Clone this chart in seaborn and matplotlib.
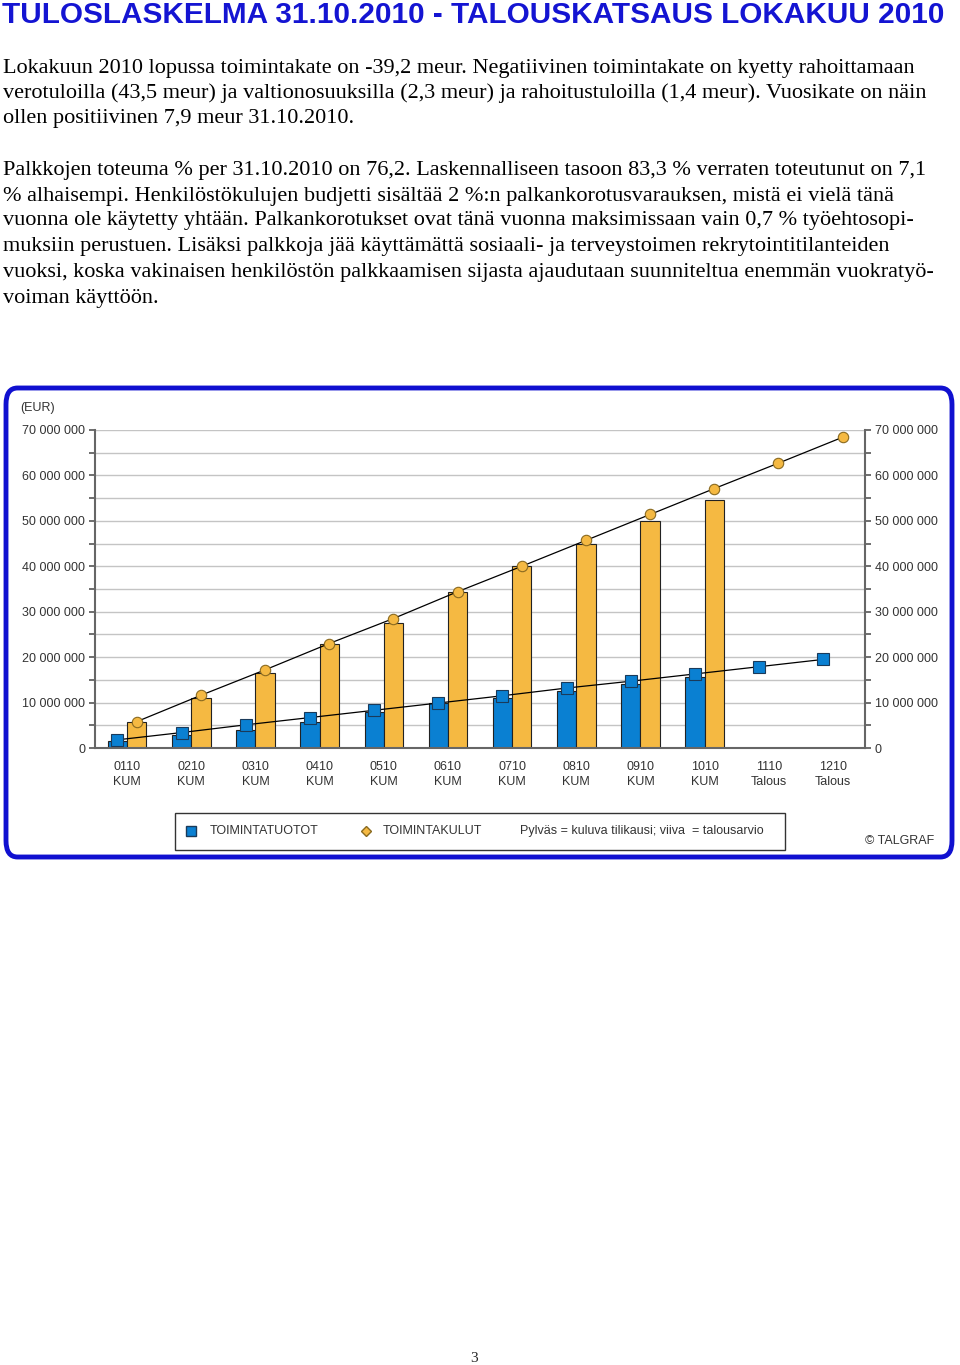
import matplotlib
matplotlib.use("Agg")
import numpy as np
import pandas as pd
import seaborn as sns
import matplotlib.pyplot as plt
from matplotlib.patches import FancyBboxPatch, Rectangle
from matplotlib.lines import Line2D
from matplotlib.ticker import FuncFormatter, MultipleLocator, FixedLocator

# ---------------- data ----------------
categories = ["0110\nKUM", "0210\nKUM", "0310\nKUM", "0410\nKUM", "0510\nKUM", "0610\nKUM",
              "0710\nKUM", "0810\nKUM", "0910\nKUM", "1010\nKUM", "1110\nTalous", "1210\nTalous"]
# actual (bars), millions EUR
tuotot_actual = [1.5, 2.8, 4.0, 5.8, 8.0, 9.8, 11.0, 12.6, 14.1, 15.7, np.nan, np.nan]
kulut_actual = [5.8, 10.9, 16.5, 23.0, 27.5, 34.4, 40.0, 44.8, 49.9, 54.7, np.nan, np.nan]
# budget (lines), millions EUR
tuotot_budget = [1.8, 3.4, 5.1, 6.7, 8.3, 9.9, 11.5, 13.2, 14.7, 16.3, 17.9, 19.5]
kulut_budget = [5.8, 11.6, 17.2, 23.0, 28.5, 34.4, 40.0, 45.7, 51.4, 57.1, 62.7, 68.4]
series_names = ["TOIMINTATUOTOT", "TOIMINTAKULUT"]

title = "TULOSLASKELMA 31.10.2010 - TALOUSKATSAUS LOKAKUU 2010"
body_lines = [
    "Lokakuun 2010 lopussa toimintakate on -39,2 meur. Negatiivinen toimintakate on kyetty rahoittamaan",
    "verotuloilla (43,5 meur) ja valtionosuuksilla (2,3 meur) ja rahoitustuloilla (1,4 meur). Vuosikate on näin",
    "ollen positiivinen 7,9 meur 31.10.2010.",
    "Palkkojen toteuma % per 31.10.2010 on 76,2. Laskennalliseen tasoon 83,3 % verraten toteutunut on 7,1",
    "% alhaisempi. Henkilöstökulujen budjetti sisältää 2 %:n palkankorotusvarauksen, mistä ei vielä tänä",
    "vuonna ole käytetty yhtään. Palkankorotukset ovat tänä vuonna maksimissaan vain 0,7 % työehtosopi-",
    "muksiin perustuen. Lisäksi palkkoja jää käyttämättä sosiaali- ja terveystoimen rekrytointitilanteiden",
    "vuoksi, koska vakinaisen henkilöstön palkkaamisen sijasta ajaudutaan suunniteltua enemmän vuokratyö-",
    "voiman käyttöön.",
]
body_y = [68, 93, 119, 170, 196, 221, 247, 272, 298]

BLUE = "#0a80d2"
ORANGE = "#f5b942"
FRAME = "#1010d0"
TXT = "#333333"

sns.set_style("white")
plt.rcParams["font.family"] = ["Liberation Sans", "DejaVu Sans"]

W, H = 960, 1365
fig = plt.figure(figsize=(W / 100, H / 100), dpi=100)

def fx(px):
    return px / W

def fy(py):
    return 1 - py / H

# ---------------- frame ----------------
frame = FancyBboxPatch((fx(6), fy(857)), fx(946), (857 - 388) / H,
                       boxstyle="round,pad=0,rounding_size=0.012",
                       transform=fig.transFigure, facecolor="white",
                       edgecolor=FRAME, linewidth=3.5, zorder=0)
fig.add_artist(frame)

# ---------------- chart ----------------
ax = fig.add_axes([fx(95), fy(748), fx(865 - 95), (748 - 430) / H])
ax.set_facecolor("none")

df = pd.DataFrame({
    "kk": categories * 2,
    "series": [series_names[0]] * len(categories) + [series_names[1]] * len(categories),
    "value": [v * 1e6 for v in tuotot_actual] + [v * 1e6 for v in kulut_actual],
})
sns.barplot(data=df, x="kk", y="value", hue="series", order=categories,
            hue_order=series_names, palette=[BLUE, ORANGE], saturation=1, width=0.6,
            edgecolor="#222222", linewidth=0.8, errorbar=None, legend=False,
            ax=ax, zorder=2)

xpos = np.arange(len(categories))
off = 0.15
ax.plot(xpos - off, np.array(tuotot_budget) * 1e6, color="black", lw=0.9,
        marker="s", markersize=9, markerfacecolor=BLUE, markeredgecolor="#1a3a5a",
        markeredgewidth=0.8, zorder=4)
ax.plot(xpos + off, np.array(kulut_budget) * 1e6, color="black", lw=0.9,
        marker="o", markersize=7.5, markerfacecolor=ORANGE, markeredgecolor="#8a6a20",
        markeredgewidth=0.8, zorder=4)

ax.set_xlim(-0.5, len(categories) - 0.5)
ax.set_ylim(0, 70e6)
ax.set_xlabel("")
ax.set_ylabel("")

ax.yaxis.set_major_locator(MultipleLocator(10e6))
ax.yaxis.set_minor_locator(MultipleLocator(5e6))
ax.yaxis.set_major_formatter(FuncFormatter(lambda v, p: f"{int(round(v)):,}".replace(",", " ")))
ax.grid(True, which="both", axis="y", color="#c4c4c4", lw=1.0, zorder=0)
ax.set_axisbelow(True)

ax.xaxis.set_minor_locator(FixedLocator(np.arange(0.5, len(categories) - 0.5, 1)))
ax.tick_params(axis="x", which="major", length=0, pad=9, labelsize=9, labelcolor=TXT)
for lab in ax.get_xticklabels():
    lab.set_linespacing(1.35)
ax.tick_params(axis="x", which="minor", length=7, direction="inout", width=1.2, color="#555555")
ax.tick_params(axis="y", which="both", left=True, right=True, labelleft=True, labelright=True,
               direction="out", length=4, width=1.2, color="#555555", labelsize=9,
               labelcolor=TXT, pad=3)

for s in ["left", "right", "bottom"]:
    ax.spines[s].set_visible(True)
    ax.spines[s].set_color("#666666")
    ax.spines[s].set_linewidth(1.5)
ax.spines["top"].set_visible(False)

fig.text(fx(20), fy(408), "(EUR)", fontsize=9, color=TXT, va="center", ha="left")

# ---------------- legend ----------------
fig.add_artist(Rectangle((fx(175), fy(850)), fx(785 - 175), (850 - 813) / H,
                         transform=fig.transFigure, facecolor="white",
                         edgecolor="#333333", linewidth=1.0))
ly = fy(831)
fig.add_artist(Line2D([fx(191)], [ly], transform=fig.transFigure, marker="s", markersize=7,
                      markerfacecolor=BLUE, markeredgecolor="#1a3a5a", linestyle="none"))
fig.text(fx(210), ly, series_names[0], fontsize=9, color=TXT, va="center", ha="left")
fig.add_artist(Line2D([fx(366)], [ly], transform=fig.transFigure, marker="D", markersize=5.5,
                      markerfacecolor=ORANGE, markeredgecolor="#8a6a20", linestyle="none"))
fig.text(fx(383), ly, series_names[1], fontsize=9, color=TXT, va="center", ha="left")
fig.text(fx(520), ly, "Pylväs = kuluva tilikausi; viiva  = talousarvio", fontsize=9,
         color=TXT, va="center", ha="left")
fig.text(fx(865), fy(841), "© TALGRAF", fontsize=9, color=TXT, va="center", ha="left")

# ---------------- texts ----------------
t_title = fig.text(fx(2), fy(23), title, fontsize=22, fontweight="bold", color="#1414d2",
                   family=["Liberation Sans", "DejaVu Sans"], va="baseline", ha="left")
body = [fig.text(fx(3), fy(y), s, fontsize=13.8, color="black",
                 family=["Liberation Serif", "DejaVu Serif"], va="center", ha="left")
        for s, y in zip(body_lines, body_y)]
fig.text(fx(474), fy(1358), "3", fontsize=11, family=["Liberation Serif", "DejaVu Serif"],
         va="center", ha="center")

# fit title and body widths to reference extents
fig.canvas.draw()
r = fig.canvas.get_renderer()
w = t_title.get_window_extent(r).width
t_title.set_fontsize(22 * 943 / w)
w = body[1].get_window_extent(r).width
fs = 13.8 * 923 / w
for t in body:
    t.set_fontsize(fs)

fig.savefig("out.png", dpi=100)
